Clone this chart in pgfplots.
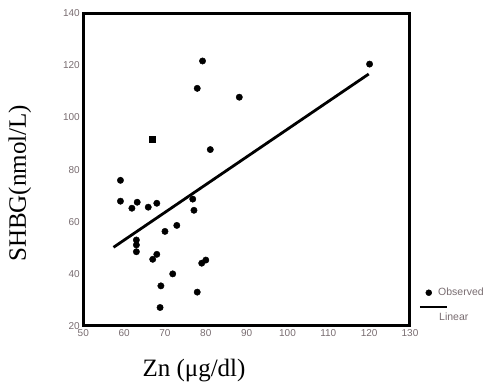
\documentclass[border=0pt]{standalone}
\usepackage{fontspec}
\setmainfont{Liberation Serif}
\newfontfamily\arialf{Liberation Sans}
\usepackage{pgfplots}
\pgfplotsset{compat=1.18}
\definecolor{tickgray}{RGB}{120,108,112}
\begin{document}
\begin{tikzpicture}[x=1pt,y=1pt]
\useasboundingbox (0,0) rectangle (488,387);
\begin{axis}[
  at={(83.3pt,61pt)}, anchor=south west,
  width=326.7pt, height=312.7pt, scale only axis,
  xmin=50, xmax=130, ymin=20, ymax=140,
  xtick={50,60,...,130}, ytick={20,40,...,140},
  major tick length=0pt,
  axis line style={line width=3pt},
  tick label style={font=\fontsize{10}{10}\selectfont\arialf, text=tickgray},
  /pgf/number format/assume math mode=true,
  xlabel={Zn (μg/dl)}, ylabel={SHBG(nmol/L)},
  label style={font=\fontsize{25}{25}\selectfont},
  x label style={at={(axis description cs:0.339,-0.141)}, anchor=center},
  y label style={at={(axis description cs:-0.194,0.456)}, anchor=center},
  legend style={at={(axis description cs:1.025,0.128)}, anchor=north west,
    draw=none, fill=none, inner sep=0pt, row sep=5pt,
    font=\fontsize{10.5}{12}\selectfont\arialf, text=tickgray},
  legend cell align=left,
]
\addplot[only marks, mark=*, mark size=3.2pt, black,
  legend image code/.code={\draw[mark=*, mark size=3pt, black, only marks] plot coordinates {(9pt,0pt)}; \path[draw=none] (0pt,0pt) -- (27pt,0pt);}]
  table {
x y
79.2 121.7
120.1 120.5
77.9 111.2
88.2 107.8
81.1 87.7
59.1 75.9
59.1 67.9
61.9 65.2
63.2 67.5
65.9 65.6
68.0 67.1
76.8 68.7
77.1 64.4
72.9 58.6
70.0 56.3
63.0 53.0
63.0 51.1
63.0 48.5
67.0 45.6
68.0 47.5
79.0 44.1
80.0 45.3
71.9 40.0
69.0 35.4
77.9 33.0
68.8 27.1
};
\addlegendentry{\hspace*{-12pt}Observed}
\addplot[only marks, mark=square*, mark size=3pt, black, forget plot]
  coordinates {(66.8,91.6)};
\addplot[line width=2.8pt, black,
  legend image code/.code={\draw[line width=2.8pt, black] (0pt,0pt) -- (27pt,0pt);}]
  coordinates {(57.4,50.2) (119.9,116.7)};
\addlegendentry{\raisebox{-14pt}{\hspace*{-11pt}Linear}}
\end{axis}
\end{tikzpicture}
\end{document}
